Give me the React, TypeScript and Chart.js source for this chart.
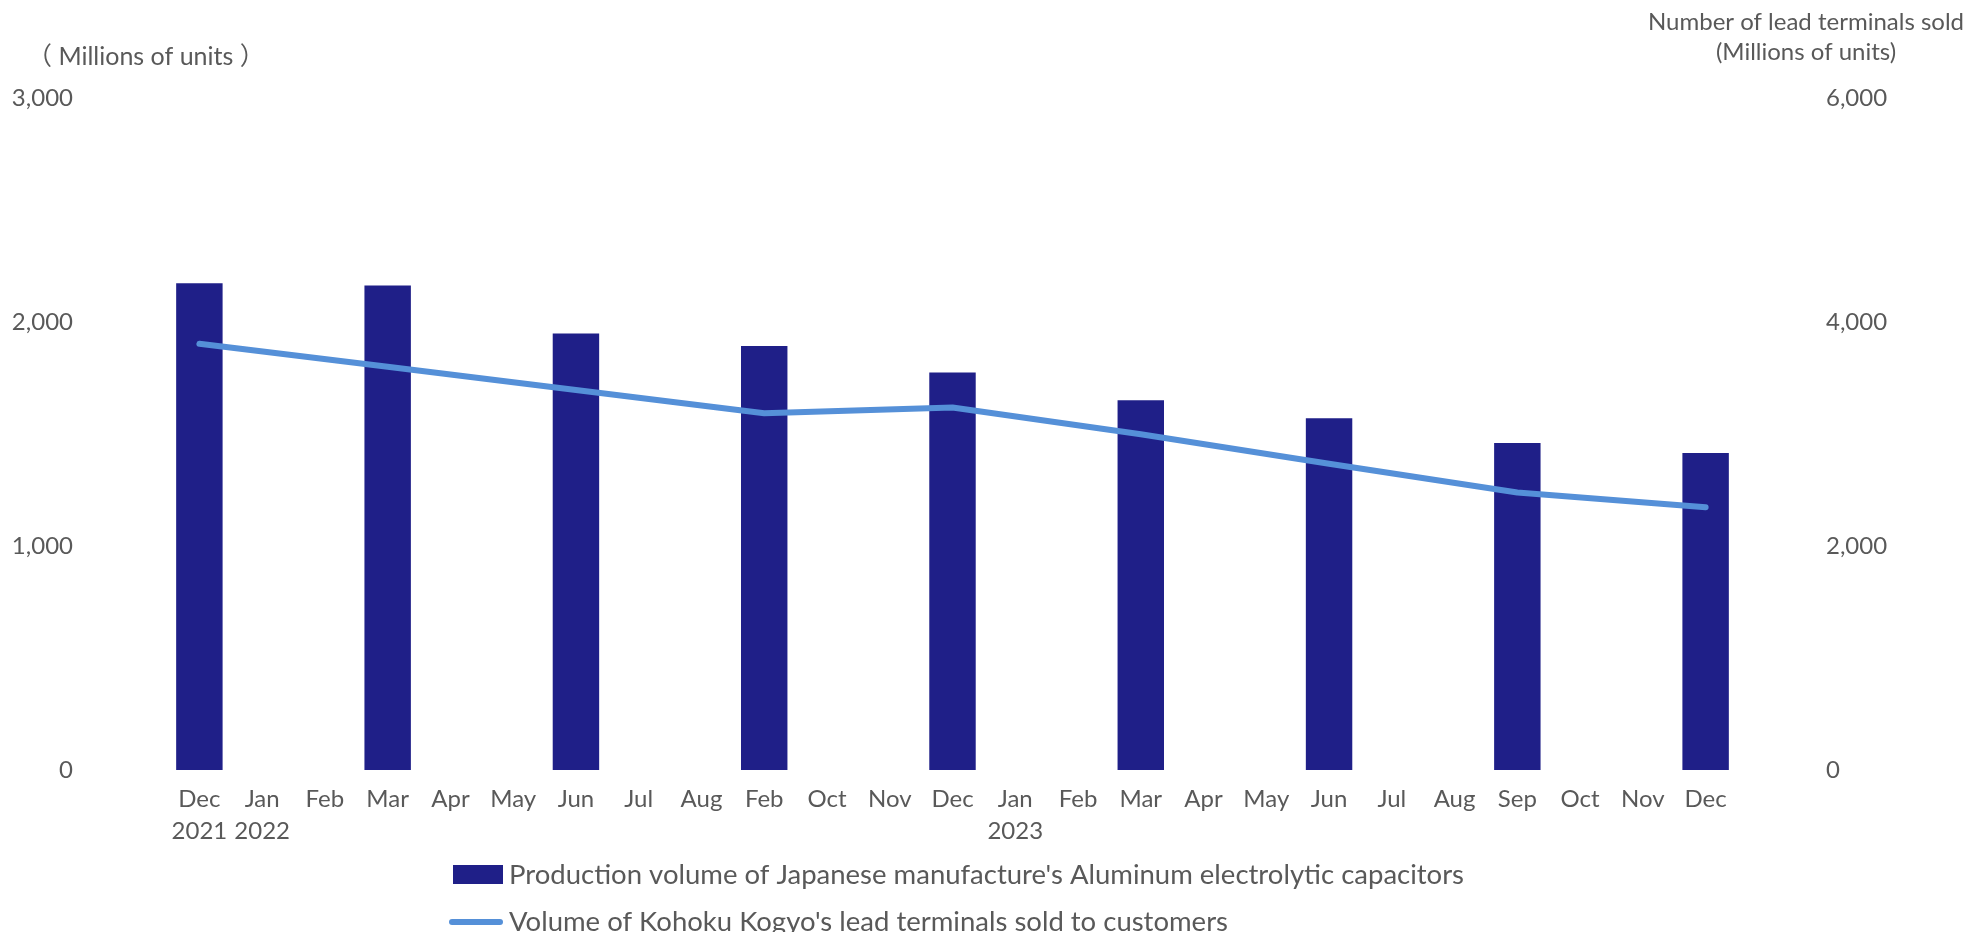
import React, { useEffect, useRef } from "react";
import { Chart, registerables } from "chart.js";

Chart.register(...registerables);

// Month labels (the tenth slot is labelled "Feb" as in the source table)
const categories: (string | string[])[] = [
  ["Dec", "2021"], ["Jan", "2022"], "Feb", "Mar", "Apr", "May", "Jun", "Jul", "Aug", "Feb", "Oct", "Nov",
  "Dec", ["Jan", "2023"], "Feb", "Mar", "Apr", "May", "Jun", "Jul", "Aug", "Sep", "Oct", "Nov", "Dec",
];

// Quarterly production of aluminum electrolytic capacitors (millions of units)
const capacitorProduction: (number | null)[] = [
  2173, null, null, 2163, null, null, 1949, null, null, 1893, null, null,
  1775, null, null, 1651, null, null, 1570, null, null, 1460, null, null, 1415,
];

// Quarterly lead terminals sold (millions of units, right axis)
const leadTerminalsSold: (number | null)[] = [
  3805, null, null, 3600, null, null, 3392, null, null, 3186, null, null,
  3236, null, null, 2998, null, null, 2735, null, null, 2478, null, null, 2345,
];

const leftTicks = [0, 1000, 2000, 3000];
const rightTicks = [0, 2000, 4000, 6000];

const barLabel = "Production volume of Japanese manufacture's Aluminum electrolytic capacitors";
const lineLabel = "Volume of Kohoku Kogyo's lead terminals sold to customers";
const leftTitle = "（ Millions of units ）";
const rightTitle = ["Number of lead terminals sold", "(Millions of units)"];

const BAR_COLOR = "#1f1f88";
const LINE_COLOR = "#5590d8";
const TEXT_COLOR = "#595959";
const FONT_FAMILY = "Lato, 'Noto Sans CJK JP', sans-serif";
const FONT_SIZE = 24;
const LEGEND_FONT_SIZE = 27.5;

const fmt = (v: number | string) => Number(v).toLocaleString("en-US");

// The wide tick padding would otherwise be added above and below the value axes
const fixValueAxis = (width: number) => (s: any) => {
  s.width = width;
  s.paddingTop = 15;
  s.paddingBottom = 15;
};

// Axis titles and a two-row legend painted onto the canvas
const decorations = {
  id: "decorations",
  afterDraw(chart: any) {
    const ctx: CanvasRenderingContext2D = chart.ctx;
    ctx.save();
    ctx.fillStyle = TEXT_COLOR;
    ctx.textBaseline = "middle";

    ctx.font = `25px ${FONT_FAMILY}`;
    ctx.textAlign = "left";
    ctx.fillText(leftTitle, 27, 57);

    ctx.font = `${FONT_SIZE}px ${FONT_FAMILY}`;
    ctx.textAlign = "center";
    ctx.fillText(rightTitle[0], 1806, 22);
    ctx.fillText(rightTitle[1], 1806, 52);

    const ds = chart.data.datasets;
    ctx.font = `${LEGEND_FONT_SIZE}px ${FONT_FAMILY}`;
    ctx.textAlign = "left";
    // bar entry
    ctx.fillStyle = ds[0].backgroundColor;
    ctx.fillRect(453, 865, 50, 19);
    ctx.fillStyle = TEXT_COLOR;
    ctx.fillText(ds[0].label, 509, 875);
    // line entry
    ctx.strokeStyle = ds[1].borderColor;
    ctx.lineWidth = 6;
    ctx.lineCap = "round";
    ctx.beginPath();
    ctx.moveTo(452, 922);
    ctx.lineTo(500, 922);
    ctx.stroke();
    ctx.fillText(ds[1].label, 509, 922);
    ctx.restore();
  },
};

export default function App() {
  const canvasRef = useRef<HTMLCanvasElement | null>(null);

  useEffect(() => {
    document.body.style.margin = "0";
    const canvas = canvasRef.current;
    if (!canvas) return;
    const font = { family: FONT_FAMILY, size: FONT_SIZE };

    const chart = new Chart(canvas, {
      type: "bar",
      data: {
        labels: categories,
        datasets: [
          {
            type: "bar",
            label: barLabel,
            data: capacitorProduction,
            backgroundColor: BAR_COLOR,
            yAxisID: "y",
            categoryPercentage: 1,
            barPercentage: 0.74,
            order: 1,
          },
          {
            type: "line",
            label: lineLabel,
            data: leadTerminalsSold,
            borderColor: LINE_COLOR,
            backgroundColor: LINE_COLOR,
            borderWidth: 6,
            borderCapStyle: "round",
            borderJoinStyle: "round",
            pointRadius: 0,
            spanGaps: true,
            tension: 0,
            yAxisID: "y1",
            order: 0,
          } as any,
        ],
      },
      options: {
        responsive: true,
        maintainAspectRatio: false,
        animation: false,
        layout: { padding: { top: 98, bottom: 0, left: 0, right: 0 } },
        plugins: {
          legend: { display: false },
          title: { display: false },
          tooltip: { enabled: false },
        },
        scales: {
          x: {
            grid: { display: false, drawTicks: false },
            border: { display: false },
            ticks: {
              color: TEXT_COLOR,
              font: { ...font, lineHeight: 1.3 },
              padding: 14,
              maxRotation: 0,
              autoSkip: false,
            },
            afterFit: (s: any) => {
              s.height = 162;
            },
          },
          y: {
            position: "left",
            min: 0,
            max: 3000,
            grid: { display: false, drawTicks: false },
            border: { display: false },
            ticks: {
              color: TEXT_COLOR,
              font,
              padding: 95,
              stepSize: 1000,
              callback: (v: any) => (leftTicks.includes(Number(v)) ? fmt(v) : ""),
            },
            afterFit: fixValueAxis(168),
          },
          y1: {
            position: "right",
            min: 0,
            max: 6000,
            grid: { display: false, drawTicks: false },
            border: { display: false },
            ticks: {
              color: TEXT_COLOR,
              font,
              padding: 89,
              stepSize: 2000,
              callback: (v: any) => (rightTicks.includes(Number(v)) ? fmt(v) : ""),
            },
            afterFit: fixValueAxis(235),
          },
        },
      },
      plugins: [decorations],
    });

    return () => chart.destroy();
  }, []);

  return (
    <div style={{ position: "relative", width: 1972, height: 932 }}>
      <canvas ref={canvasRef} />
    </div>
  );
}
